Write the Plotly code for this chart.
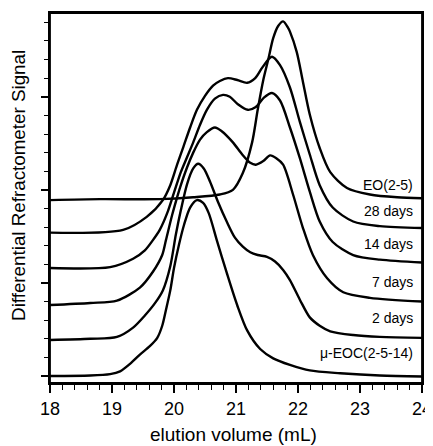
import plotly.graph_objects as go

# ---- data (elution volume mL, offset RI signal) ----
mueoc_x = [18.00, 18.65, 18.97, 19.13, 19.29, 19.45, 19.61, 19.73, 19.81, 19.87, 19.94, 20.00, 20.08,
           20.16, 20.26, 20.37, 20.47, 20.56, 20.69, 20.85, 21.02, 21.18, 21.39, 21.60, 21.87, 22.19,
           22.68, 23.32, 24.00]
mueoc_y = [0.00, 0.005, 0.02, 0.05, 0.13, 0.23, 0.32, 0.41, 0.54, 0.71, 0.92, 1.16, 1.41,
           1.62, 1.81, 1.89, 1.86, 1.75, 1.46, 1.11, 0.76, 0.49, 0.29, 0.19, 0.12, 0.06,
           0.03, 0.005, -0.005]

d2_x = [18.00, 18.65, 19.08, 19.34, 19.53, 19.69, 19.82, 19.94, 20.03, 20.11, 20.21, 20.31, 20.39,
        20.48, 20.58, 20.71, 20.85, 20.98, 21.11, 21.23, 21.35, 21.50, 21.63, 21.76, 21.87, 22.03,
        22.19, 22.35, 22.52, 22.89, 23.32, 24.00]
d2_y = [0.387, 0.40, 0.42, 0.52, 0.65, 0.78, 0.92, 1.18, 1.52, 1.78, 2.06, 2.23, 2.28,
        2.23, 2.09, 1.87, 1.66, 1.49, 1.39, 1.33, 1.30, 1.28, 1.23, 1.14, 1.03, 0.82,
        0.63, 0.54, 0.48, 0.44, 0.42, 0.41]

d7_x = [18.00, 18.65, 19.08, 19.45, 19.66, 19.81, 19.87, 19.97, 20.05, 20.10, 20.21, 20.31, 20.42,
        20.53, 20.66, 20.77, 20.95, 21.10, 21.23, 21.32, 21.44, 21.55, 21.65, 21.76, 21.92, 22.08,
        22.24, 22.47, 22.73, 23.16, 24.00]
d7_y = [0.763, 0.785, 0.81, 0.95, 1.12, 1.30, 1.46, 1.73, 1.92, 2.03, 2.24, 2.40, 2.54,
        2.62, 2.67, 2.63, 2.51, 2.38, 2.29, 2.27, 2.31, 2.37, 2.34, 2.27, 1.95, 1.59,
        1.30, 1.05, 0.90, 0.84, 0.80]

d14_x = [18.00, 18.97, 19.34, 19.53, 19.66, 19.77, 19.89, 20.00, 20.11, 20.21, 20.31, 20.42, 20.53,
         20.66, 20.79, 20.90, 21.03, 21.19, 21.32, 21.45, 21.58, 21.71, 21.87, 22.03, 22.19, 22.35,
         22.56, 22.89, 23.32, 24.00]
d14_y = [1.16, 1.17, 1.26, 1.35, 1.46, 1.57, 1.75, 1.97, 2.19, 2.35, 2.51, 2.70, 2.86,
         2.98, 3.02, 3.00, 2.92, 2.86, 2.89, 2.99, 3.04, 2.96, 2.67, 2.34, 1.98, 1.66,
         1.44, 1.30, 1.25, 1.22]

d28_x = [18.00, 19.18, 19.56, 19.82, 19.94, 20.05, 20.15, 20.26, 20.37, 20.50, 20.63, 20.74, 20.87,
         21.02, 21.18, 21.31, 21.42, 21.52, 21.58, 21.71, 21.87, 22.03, 22.19, 22.35, 22.56, 22.89,
         23.32, 24.00]
d28_y = [1.54, 1.57, 1.71, 1.89, 2.05, 2.27, 2.46, 2.67, 2.86, 3.01, 3.12, 3.17, 3.20,
         3.18, 3.15, 3.20, 3.31, 3.40, 3.43, 3.34, 3.10, 2.73, 2.38, 2.05, 1.81, 1.66,
         1.61, 1.59]

eo_x = [18.00, 18.81, 19.77, 20.31, 20.74, 20.95, 21.11, 21.26, 21.35, 21.44, 21.52, 21.60, 21.68,
        21.76, 21.84, 21.87, 21.98, 22.08, 22.19, 22.35, 22.52, 22.79, 23.16, 23.60, 24.00]
eo_y = [1.89, 1.90, 1.90, 1.92, 1.95, 2.00, 2.18, 2.51, 2.86, 3.18, 3.40, 3.63, 3.76,
        3.81, 3.74, 3.70, 3.48, 3.16, 2.81, 2.45, 2.19, 2.02, 1.95, 1.92, 1.91]

series_names = ["μ-EOC(2-5-14)", "2 days", "7 days", "14 days", "28 days", "EO(2-5)"]
label_y = [0.25, 0.62, 1.01, 1.42, 1.77, 2.05]

x_tick_vals = [18, 19, 20, 21, 22, 23, 24]
x_tick_text = ["18", "19", "20", "21", "22", "23", "24"]

FONT = "Liberation Sans, Arial, sans-serif"

fig = go.Figure()
all_series = [(mueoc_x, mueoc_y), (d2_x, d2_y), (d7_x, d7_y),
              (d14_x, d14_y), (d28_x, d28_y), (eo_x, eo_y)]
for (xs, ys), name in zip(all_series, series_names):
    fig.add_trace(go.Scatter(x=xs, y=ys, mode="lines", name=name,
                             line=dict(color="black", width=2.4, shape="spline", smoothing=0.8),
                             showlegend=False, hoverinfo="skip"))

for name, ly in zip(series_names, label_y):
    fig.add_annotation(x=23.88, y=ly, xref="x", yref="y", text=name, showarrow=False,
                       xanchor="right", yanchor="middle",
                       font=dict(family=FONT, size=14, color="black"))

fig.add_annotation(x=-0.083, y=0.533, xref="paper", yref="paper",
                   text="Differential Refractometer Signal", showarrow=False, textangle=-90,
                   xanchor="center", yanchor="middle",
                   font=dict(family=FONT, size=18.8, color="black"))
fig.add_annotation(x=0.492, y=-0.138, xref="paper", yref="paper",
                   text="elution volume (mL)", showarrow=False,
                   xanchor="center", yanchor="middle",
                   font=dict(family=FONT, size=19, color="black"))

# plot frame
fig.add_shape(type="rect", xref="paper", yref="paper", x0=0, x1=1, y0=0, y1=1,
              line=dict(color="black", width=1.8), layer="above")

# the page body adds an 8 px offset; size/margins compensate so the plot area sits at
# x 50..422 and y 13..383 in the 433x446 window
fig.update_layout(
    width=425, height=438,
    margin=dict(l=42, r=11, t=5, b=63, autoexpand=False),
    paper_bgcolor="white", plot_bgcolor="white",
    font=dict(family=FONT, color="black"),
    xaxis=dict(range=[18, 24], tickmode="array", tickvals=x_tick_vals, ticktext=x_tick_text,
               ticks="outside", ticklen=8, tickwidth=1.5, tickcolor="black",
               minor=dict(dtick=0.2, ticks="outside", ticklen=5, tickwidth=1, tickcolor="black"),
               showline=True, linecolor="black", linewidth=1.8, mirror=True,
               showgrid=False, zeroline=False, automargin=False,
               tickfont=dict(family=FONT, size=18, color="black")),
    yaxis=dict(range=[-0.075, 3.9], dtick=1, tick0=0,
               ticks="outside", ticklen=7, tickwidth=1.5, tickcolor="black",
               minor=dict(dtick=0.2, ticks="outside", ticklen=4, tickwidth=1, tickcolor="black"),
               showticklabels=False, automargin=False,
               showline=True, linecolor="black", linewidth=1.8, mirror=True,
               showgrid=False, zeroline=False),
)

fig.write_html("out.html")
